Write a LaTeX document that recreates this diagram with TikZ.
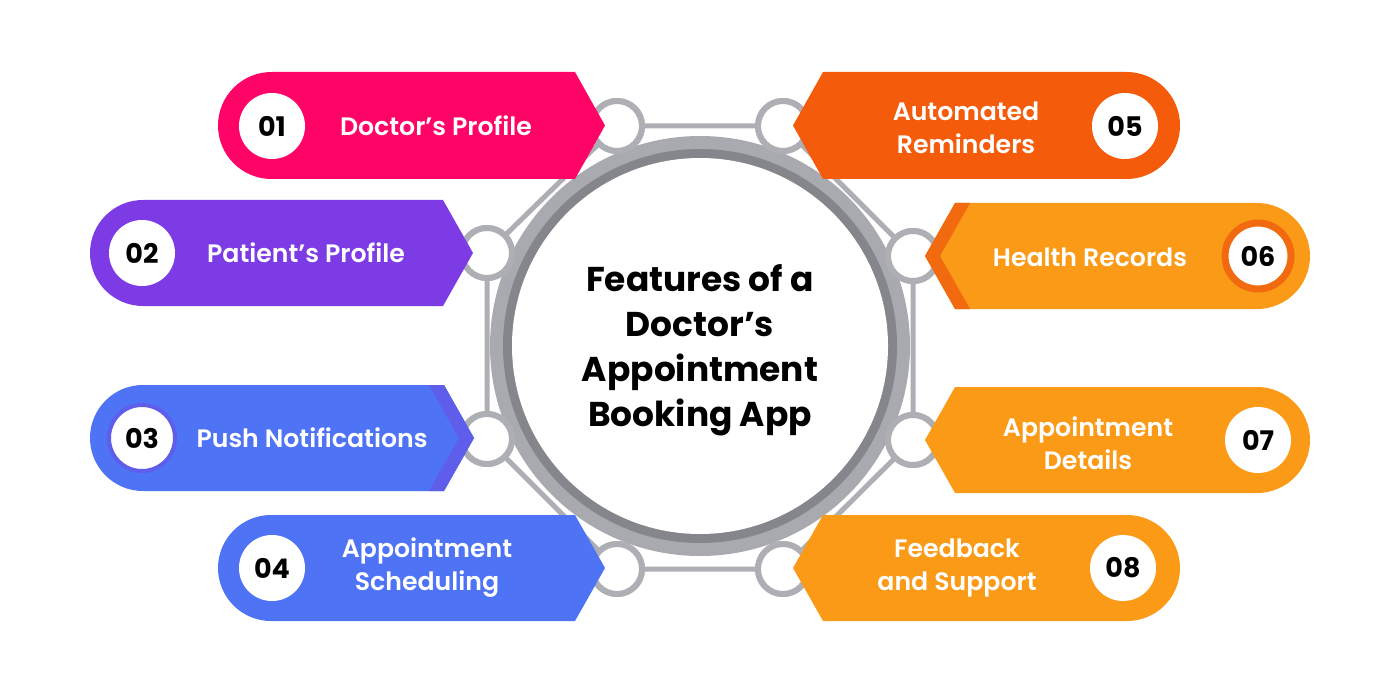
\documentclass[tikz,border=0pt]{standalone}
\usepackage{fontspec}
\setmainfont{Poppins}
\newfontfamily\popsemi{Poppins SemiBold}
\definecolor{netgray}{HTML}{AEAFB5}
\definecolor{ringlight}{HTML}{A9AAB0}
\definecolor{ringdark}{HTML}{85868B}
\definecolor{pinkc}{HTML}{FE0467}
\definecolor{purplec}{HTML}{7D3BE6}
\definecolor{bluec}{HTML}{4E73F5}
\definecolor{blueband}{HTML}{5E5EEA}
\definecolor{redorange}{HTML}{F45B0A}
\definecolor{orangec}{HTML}{FA9A16}
\definecolor{orangeband}{HTML}{F26A10}
\begin{document}
\begin{tikzpicture}[x=0.5pt,y=-0.5pt,
  net/.style={draw=netgray,line width=2.5pt},
  link/.style={circle,draw=netgray,line width=3pt,fill=white,minimum size=25pt,inner sep=0pt},
  num/.style={circle,fill=white,minimum size=33pt,inner sep=0pt,font=\bfseries\fontsize{13.5}{13.5}\selectfont},
  lbl/.style={text=white,align=center,inner sep=0pt,font=\popsemi\fontsize{12.6}{16.5}\selectfont},
  title/.style={align=center,inner sep=0pt,font=\bfseries\fontsize{17.2}{22.5}\selectfont}]
\useasboundingbox (0,0) rectangle (1400,700);
\fill[white] (0,0) rectangle (1400,700);

% connector circles
\node[link] (c1) at (617,126) {};
\node[link] (c2) at (487,253) {};
\node[link] (c3) at (487,439) {};
\node[link] (c4) at (617,569) {};
\node[link] (c5) at (783,126) {};
\node[link] (c6) at (913,256) {};
\node[link] (c7) at (913,440) {};
\node[link] (c8) at (783,569) {};

% network
\draw[net] (c1.center) -- (c2.center) -- (c3.center) -- (c4.center) -- (c8.center) -- (c7.center) -- (c6.center) -- (c5.center) -- (c1.center);

% central ring
\fill[ringlight] (700,346) circle[radius=210];
\fill[ringdark] (700,346) circle[radius=197];
\fill[white] (700,346) circle[radius=188];

% link circles above lines
\foreach \p/\q in {617/126,487/253,487/439,617/569,783/126,913/256,913/440,783/569}
  \draw[netgray,line width=3pt,fill=white] (\p,\q) circle[radius=25];

% left banners
\fill[pinkc] (575,72) -- (605,125.5) -- (575,179) -- (271.5,179) arc[start angle=90,end angle=270,radius=53.5] -- cycle;
\fill[purplec] (443,200) -- (473,253) -- (443,306) -- (143,306) arc[start angle=90,end angle=270,radius=53] -- cycle;
\fill[bluec] (444,385) -- (474,438) -- (444,491) -- (143,491) arc[start angle=90,end angle=270,radius=53] -- cycle;
\fill[blueband] (444,385) -- (474,438) -- (444,491) -- (429,491) -- (459,438) -- (429,385) -- cycle;
\fill[bluec] (575,515) -- (605,568) -- (575,621) -- (271,621) arc[start angle=90,end angle=270,radius=53] -- cycle;

% right banners
\fill[redorange] (823,72) -- (793,125.5) -- (823,179) -- (1126.5,179) arc[start angle=90,end angle=-90,radius=53.5] -- cycle;
\fill[orangec] (955,203) -- (925,256) -- (955,309) -- (1257,309) arc[start angle=90,end angle=-90,radius=53] -- cycle;
\fill[orangeband] (955,203) -- (925,256) -- (955,309) -- (970,309) -- (940,256) -- (970,203) -- cycle;
\fill[orangec] (955,387) -- (925,440) -- (955,493) -- (1257,493) arc[start angle=90,end angle=-90,radius=53] -- cycle;
\fill[orangec] (823,515) -- (793,568) -- (823,621) -- (1127,621) arc[start angle=90,end angle=-90,radius=53] -- cycle;

% numbers
\node[num] (n1) at (272,126) {01};
\node[num] (n2) at (142,253) {02};
\node[num,draw=blueband,line width=2pt] (n3) at (142,438) {03};
\node[num] (n4) at (272,568) {04};
\node[num] (n5) at (1125,126) {05};
\node[num,draw=orangeband,line width=3.5pt] (n6) at (1258,256) {06};
\node[num] (n7) at (1258,440) {07};
\node[num] (n8) at (1123,568) {08};

% labels
\node[lbl] (t1) at (436,126) {Doctor’s Profile};
\node[lbl] (t2) at (306,253) {Patient’s Profile};
\node[lbl] (t3) at (312,438) {Push Notifications};
\node[lbl] (t4) at (427,568) {Appointment\\Scheduling};
\node[lbl] (t5) at (966,128) {Automated\\Reminders};
\node[lbl] (t6) at (1090,257) {Health Records};
\node[lbl] (t7) at (1088,443) {Appointment\\Details};
\node[lbl] (t8) at (957,568) {Feedback\\and Support};

% title
\node[title] (title) at (700,350) {Features of a\\Doctor’s\\Appointment\\Booking App};
\end{tikzpicture}
\end{document}
